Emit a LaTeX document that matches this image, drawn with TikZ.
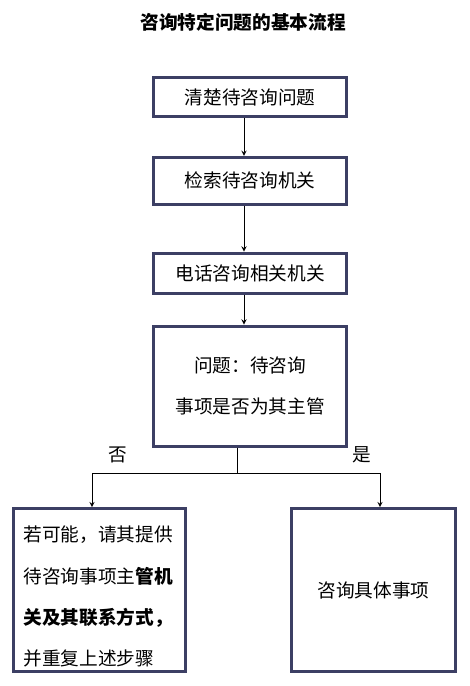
\documentclass[tikz,border=0pt]{standalone}
\usepackage{fontspec}
\setmainfont{Noto Sans CJK SC}
\usetikzlibrary{arrows.meta,positioning,calc}
\definecolor{boxline}{RGB}{60,63,100}

\begin{document}
\begin{tikzpicture}[
        x=0.75pt, y=-0.75pt,
        block/.style={rectangle, draw=boxline, line width=2.25pt, minimum width=145pt, align=center, font=\fontsize{14}{31}\selectfont},
        arrow/.style={line width=0.75pt, ->, >=stealth},
        link/.style={line width=0.75pt},
        % Style cho nhãn nhánh
        tag/.style={font=\fontsize{14}{16}\selectfont}
    ]
    \useasboundingbox (0,0) rectangle (469,686);

    % --- Tiêu đề ---
    \node (title) at (243,22) [font=\bfseries\fontsize{14}{16}\selectfont] {咨询特定问题的基本流程};

    % --- Các bước tuần tự ---
    \node (q1) at (250,97) [block, minimum height=29pt] {清楚待咨询问题};
    \node (q2) [below=28.5pt of q1, block, minimum height=35pt] {检索待咨询机关};
    \node (q3) [below=34.5pt of q2, block, minimum height=30pt] {电话咨询相关机关};
    \node (q4) [below=22.5pt of q3, block, minimum height=90pt] {问题：待咨询 \\ 事项是否为其主管};

    \coordinate (spine) at (244,0);
    \draw[arrow] (q1.south -| spine) -- (q2.north -| spine);
    \draw[arrow] (q2.south -| spine) -- (q3.north -| spine);
    \draw[arrow] (q3.south -| spine) -- (q4.north -| spine);

    % --- Hai nhánh ---
    \node (no) at (99.5,590) [block, minimum width=129pt, minimum height=122pt] {};
    \node (notext) at ([yshift=-5pt]no.center) [text width=114pt, align=left, font=\fontsize{14}{31}\selectfont] {若可能，请其提供 \\ 待咨询事项主{\bfseries 管机} \\ {\bfseries 关及其联系方式，} \\ 并重复上述步骤};
    \node (yes) at (373.5,590) [block, minimum width=123pt, minimum height=122pt] {咨询具体事项};

    \coordinate (fork) at (237,473);
    \coordinate (forkl) at (92,473);
    \coordinate (forkr) at (380,473);
    \draw[link] (q4.south -| fork) -- (fork);
    \draw[arrow] (fork) -| (no.north -| forkl);
    \draw[arrow] (fork) -| (yes.north -| forkr);

    \node (tno) at (118,455) [tag] {否};
    \node (tyes) at (362,455) [tag] {是};
\end{tikzpicture}
\end{document}
